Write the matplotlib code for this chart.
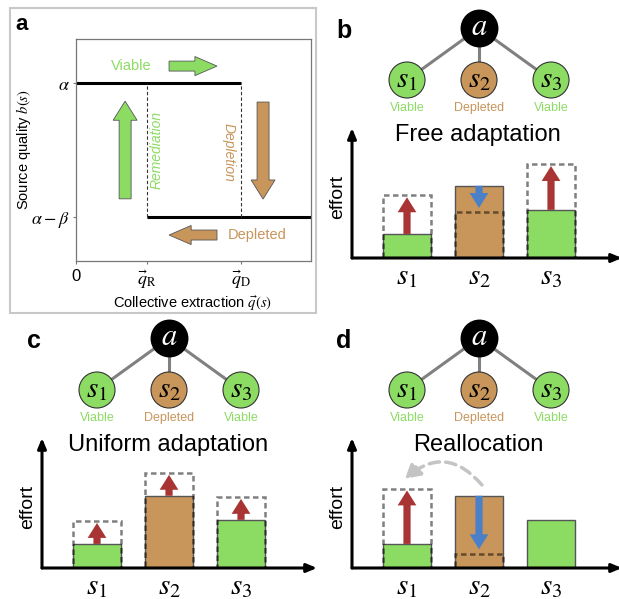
# Schematic figure: source regimes (a) and effort adaptation rules (b-d)
# #############################################################################

# Import of Libraries
# -----------------------------------------------------------------------------

import numpy as np
import matplotlib
matplotlib.use("Agg")
import matplotlib.pyplot as plt
from matplotlib.patches import Rectangle


# -----------------------------------------------------------------------------
# Settings

plt.rcParams['font.family'] = ['Liberation Sans', 'DejaVu Sans']
plt.rcParams['mathtext.fontset'] = 'stix'

W, H = 619, 599  # figure size in pixels

GREEN = '#8cdc64'
BROWN = '#c8955a'
RED = '#a83434'
BLUE = '#4a80c8'


# Data
# -----------------------------------------------------------------------------

# panel a: regime diagram
q_R, q_D = 0.3, 0.7
level_viable, level_depleted = 0.8, 0.2

# panels b-d: sources and effort levels
sources = [r'$s_1$', r'$s_2$', r'$s_3$']
states = ['Viable', 'Depleted', 'Viable']
effort_now = [1.0, 3.0, 2.0]
effort_free = [2.6, 1.9, 3.9]
effort_uniform = [1.95, 3.95, 2.95]
effort_realloc = [3.3, 0.6, np.nan]


# Functions
# -----------------------------------------------------------------------------

def px_axes(fig, left, top, right, bottom):
    """Axes from pixel box (origin top left)."""
    return(fig.add_axes([left / W, 1 - bottom / H,
                         (right - left) / W, (bottom - top) / H]))


def plot_regimes(fig, bg):
    bg.add_patch(Rectangle((10, 8), 306, 305, fill=False, ec='#c8c8c8', lw=1.5))
    bg.text(22, 30, 'a', fontsize=16, fontweight='bold', ha='center', va='baseline')

    ax = px_axes(fig, 76, 39, 311, 261)
    ax.set_xlim(0, 1)
    ax.set_ylim(0, 1)
    ax.plot([0, q_D], [level_viable, level_viable], color='black', lw=2.2,
            solid_capstyle='butt')
    ax.plot([q_R, 1], [level_depleted, level_depleted], color='black', lw=2.2,
            solid_capstyle='butt')
    for q in [q_R, q_D]:
        ax.plot([q, q], [level_depleted, level_viable], color='#333333',
                lw=0.8, ls=(0, (3, 2)))

    # transitions
    arrow_kw = dict(length_includes_head=True, ec='#555555', lw=0.6)
    ax.arrow(0.396, 0.878, 0.204, 0, width=0.045, head_width=0.086,
             head_length=0.094, fc=GREEN, **arrow_kw)
    ax.arrow(0.6, 0.117, -0.204, 0, width=0.045, head_width=0.086,
             head_length=0.094, fc=BROWN, **arrow_kw)
    ax.arrow(0.209, 0.28, 0, 0.44, width=0.051, head_width=0.102,
             head_length=0.086, fc=GREEN, **arrow_kw)
    ax.arrow(0.796, 0.716, 0, -0.437, width=0.051, head_width=0.102,
             head_length=0.086, fc=BROWN, **arrow_kw)

    ax.text(0.234, 0.878, 'Viable', color=GREEN, fontsize=10.5,
            ha='center', va='center')
    ax.text(0.77, 0.117, 'Depleted', color=BROWN, fontsize=10.5,
            ha='center', va='center')
    ax.text(0.345, 0.5, 'Remediation', color=GREEN, fontsize=10,
            style='italic', rotation=90, ha='center', va='center')
    ax.text(0.651, 0.49, 'Depletion', color=BROWN, fontsize=10,
            style='italic', rotation=-90, ha='center', va='center')

    ax.set_xticks([0, q_R, q_D])
    ax.set_xticklabels(['0', r'$\vec{q}_{\mathrm{R}}$', r'$\vec{q}_{\mathrm{D}}$'])
    ax.get_xticklabels()[0].set_fontsize(12)
    for lab in ax.get_xticklabels()[1:]:
        lab.set_fontsize(13)
    ax.set_yticks([level_depleted, level_viable])
    ax.set_yticklabels([r'$\alpha-\beta$', r'$\alpha$'], fontsize=13)
    ax.tick_params(length=2.5, width=0.8, color='#777777', pad=2)
    ax.tick_params(axis='x', pad=3)
    for sp in ax.spines.values():
        sp.set_color('#777777')
        sp.set_linewidth(0.9)

    ax.set_xlabel(r'Collective extraction $\vec{q}(s)$', fontsize=10.5)
    ax.xaxis.set_label_coords(0.497, -0.148)
    ax.set_ylabel(r'Source quality $b(s)$', fontsize=10.5)
    ax.yaxis.set_label_coords(-0.183, 0.5)


def plot_adaptation(fig, bg, ox, oy, letter, title, targets, reallocation=False):
    pos = np.arange(len(sources))
    colors = [GREEN if s == 'Viable' else BROWN for s in states]
    left, right = ox + 42, min(ox + 317, W + 3)
    xlim = (-0.764, -0.764 + (right - left) / 72)

    bg.text(ox + 34, oy + 38, letter, fontsize=18, fontweight='bold',
            ha='center', va='baseline')
    bg.text(ox + 168, oy + 135, title, fontsize=17, ha='center', va='center')

    # network of agent and sources
    tax = px_axes(fig, left, oy, right, oy + 118)
    tax.set_xlim(*xlim)
    tax.set_ylim(118, 0)
    tax.axis('off')
    for x in pos:
        tax.plot([1, x], [28, 80], color='#808080', lw=2.2, zorder=1)
    tax.scatter([1], [28], s=690, color='black', zorder=2)
    tax.scatter(pos, [80] * len(pos), s=672, color=colors, ec='#333333',
                lw=0.8, zorder=2)
    tax.text(1, 27, r'$a$', color='white', fontsize=22, ha='center',
             va='center', zorder=3)
    for x, name, state, c in zip(pos, sources, states, colors):
        tax.text(x, 79, name, fontsize=21, ha='center', va='center', zorder=3)
        tax.text(x, 108, state, fontsize=9, color=c, ha='center', va='center')

    # effort bars
    ax = px_axes(fig, left, oy + 128, right, oy + 258)
    ax.set_xlim(*xlim)
    ax.set_ylim(0, 5.4)
    ax.patch.set_visible(False)
    for sp in ax.spines.values():
        sp.set_visible(False)
    ax.bar(pos, effort_now, width=0.667, color=colors, ec='#555555', lw=1,
           zorder=2)
    ok = ~np.isnan(np.array(targets, dtype=float))
    ax.bar(pos[ok], np.array(targets)[ok], width=0.667, fill=False,
           ec=(0, 0, 0, 0.5), lw=1.8, ls=(0, (2.2, 1.4)), zorder=3)
    for x, h, t in zip(pos, effort_now, targets):
        if np.isnan(t):
            continue
        if t > h:
            color, tip = RED, t - 0.08
        else:
            color, tip = BLUE, t + 0.18
        ax.arrow(x, h, 0, tip - h, width=0.1, head_width=0.26,
                 head_length=0.62, length_includes_head=True, fc=color,
                 ec='none', zorder=4)
    if reallocation:
        ax.annotate('', xy=(-0.03, 3.7), xytext=(1.04, 3.45),
                    arrowprops=dict(arrowstyle='-|>,head_length=0.9,head_width=0.5',
                                    connectionstyle='arc3,rad=0.5',
                                    color='#c4c4c4', lw=2.5, ls=(0, (3, 1.8)),
                                    shrinkA=0, shrinkB=0))

    axis_kw = dict(arrowstyle='-|>,head_length=0.6,head_width=0.25',
                   color='black', lw=2.2, shrinkA=0, shrinkB=0)
    ax.annotate('', xy=(0, 1), xytext=(0, 0), xycoords='axes fraction',
                arrowprops=axis_kw, annotation_clip=False)
    ax.annotate('', xy=(1, 0), xytext=(0, 0), xycoords='axes fraction',
                arrowprops=axis_kw, annotation_clip=False)

    ax.set_yticks([])
    ax.set_xticks(pos)
    ax.set_xticklabels(sources, fontsize=21)
    ax.tick_params(axis='x', length=0, pad=3)
    ax.set_ylabel('effort', fontsize=14)
    ax.yaxis.set_label_coords(-0.022, 0.47)


# Beginning of the Programm
# -----------------------------------------------------------------------------

if __name__ == '__main__':
    fig = plt.figure(figsize=(W / 100, H / 100), dpi=100)
    bg = px_axes(fig, 0, 0, W, H)
    bg.set_xlim(0, W)
    bg.set_ylim(H, 0)
    bg.axis('off')

    plot_regimes(fig, bg)
    plot_adaptation(fig, bg, 310, 0, 'b', 'Free adaptation', effort_free)
    plot_adaptation(fig, bg, 0, 310, 'c', 'Uniform adaptation', effort_uniform)
    plot_adaptation(fig, bg, 310, 310, 'd', 'Reallocation', effort_realloc,
                    reallocation=True)

    fig.savefig('out.png', dpi=100)
